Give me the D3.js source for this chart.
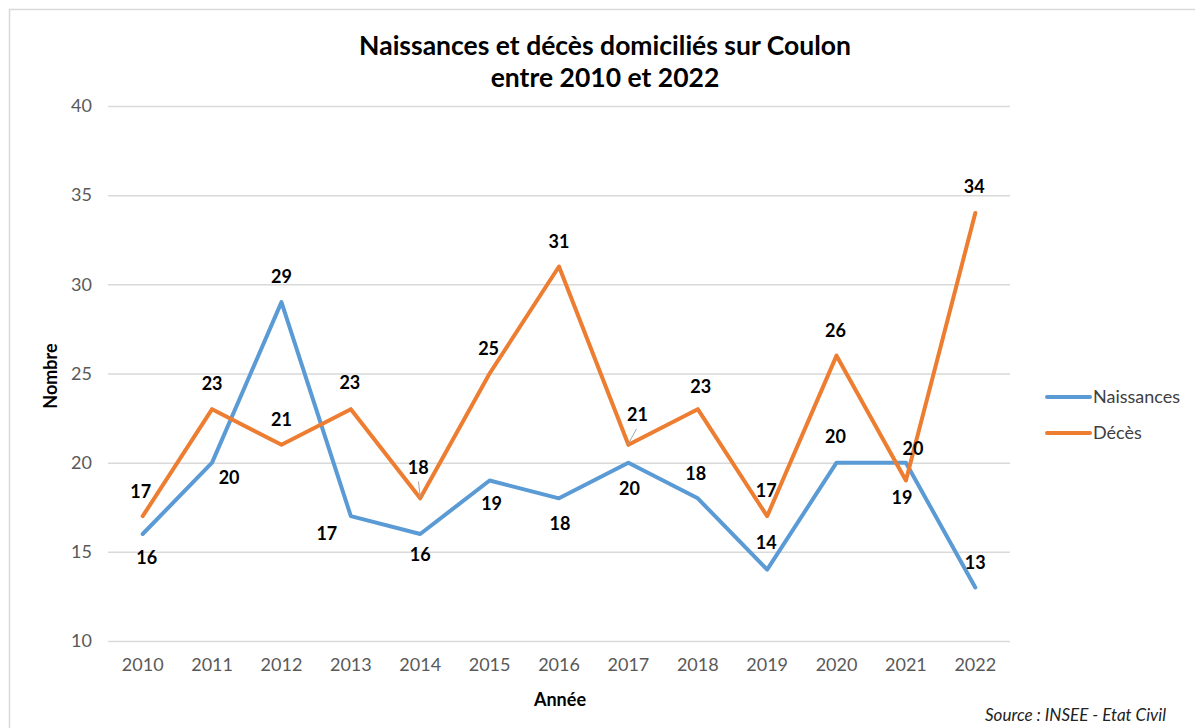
<!DOCTYPE html>
<html>
<head>
<meta charset="utf-8">
<script src="https://cdn.jsdelivr.net/npm/d3@7"></script>
<style>
  body { margin: 0; background: #fff; }
  svg text { font-family: Lato, "Open Sans", sans-serif; }
</style>
</head>
<body>
<div id="chart"></div>
<script>
// data
const years = ['2010', '2011', '2012', '2013', '2014', '2015', '2016', '2017', '2018', '2019', '2020', '2021', '2022'];
const naissances = [16, 20, 29, 17, 16, 19, 18, 20, 18, 14, 20, 20, 13];
const deces = [17, 23, 21, 23, 18, 25, 31, 21, 23, 17, 26, 19, 34];
const yTicks = [10, 15, 20, 25, 30, 35, 40];

// label placement (pixel offsets from the point, as dragged in the original)
const naissOffsets = [[4, 24], [17, 15], [0, -25], [-24, 18], [0, 21], [2, 23], [1, 25], [1, 26], [-2, -25], [-1, -27], [-1, -26], [7, -14], [0, -25]];
const decesOffsets = [[-2, -24], [0, -25], [0, -25], [-1, -26], [-2, -31], [-1, -25], [0, -25], [9, -30], [3, -22], [-1, -25], [-1, -25], [-4, 17], [-1, -26]];

const width = 1195, height = 728;
const plotLeft = 108, plotRight = 1010, plotTop = 106, plotBottom = 641;

const svg = d3.select('#chart').append('svg')
  .attr('width', width)
  .attr('height', height);

// frame
svg.append('rect')
  .attr('x', 9.5).attr('y', 9.5)
  .attr('width', 1200).attr('height', 740)
  .attr('fill', 'none')
  .attr('stroke', '#d9d9d9')
  .attr('stroke-width', 1.5);

const x = d3.scaleBand().domain(years).range([plotLeft, plotRight]);
const y = d3.scaleLinear().domain([10, 40]).range([plotBottom, plotTop]);
const cx = d => x(d) + x.bandwidth() / 2;

// gridlines + y labels
const yAxis = d3.axisLeft(y).tickValues(yTicks).tickSize(-(plotRight - plotLeft)).tickPadding(16);
svg.append('g')
  .attr('transform', `translate(${plotLeft},0)`)
  .call(yAxis)
  .call(g => g.select('.domain').remove())
  .call(g => g.selectAll('.tick line').attr('stroke', '#d9d9d9').attr('stroke-width', 1.5))
  .call(g => g.selectAll('.tick text').attr('fill', '#595959').style('font-size', '18px'));

// x labels
const xAxis = d3.axisBottom(x).tickSize(0).tickPadding(17);
svg.append('g')
  .attr('transform', `translate(0,${plotBottom})`)
  .call(xAxis)
  .call(g => g.select('.domain').remove())
  .call(g => g.selectAll('.tick text').attr('fill', '#595959').style('font-size', '18px'));

// title
svg.append('text')
  .attr('x', 605).attr('y', 55)
  .attr('text-anchor', 'middle')
  .style('font-size', '26.5px').style('font-weight', 'bold')
  .attr('fill', '#000')
  .text('Naissances et décès domiciliés sur Coulon');
svg.append('text')
  .attr('x', 605).attr('y', 87)
  .attr('text-anchor', 'middle')
  .style('font-size', '26.5px').style('font-weight', 'bold')
  .attr('fill', '#000')
  .text('entre 2010 et 2022');

// axis titles
svg.append('text')
  .attr('transform', 'translate(57,376) rotate(-90)')
  .attr('text-anchor', 'middle')
  .style('font-size', '18px').style('font-weight', 'bold')
  .text('Nombre');
svg.append('text')
  .attr('x', 560).attr('y', 706)
  .attr('text-anchor', 'middle')
  .style('font-size', '18px').style('font-weight', 'bold')
  .text('Année');

svg.append('text')
  .attr('x', 1166).attr('y', 721)
  .attr('text-anchor', 'end')
  .style('font-size', '17px').style('font-style', 'italic')
  .attr('fill', '#222')
  .text('Source : INSEE - Etat Civil');

// series
const series = [
  { name: 'Naissances', values: naissances, color: '#5b9bd5', offsets: naissOffsets },
  { name: 'Décès', values: deces, color: '#ed7d31', offsets: decesOffsets }
];

const line = d3.line()
  .x((d, i) => cx(years[i]))
  .y(d => y(d));

series.forEach(s => {
  svg.append('path')
    .datum(s.values)
    .attr('d', line)
    .attr('fill', 'none')
    .attr('stroke', s.color)
    .attr('stroke-width', 4)
    .attr('stroke-linejoin', 'round')
    .attr('stroke-linecap', 'round');
});

// leader lines (2014 and 2017 deces labels)
[4, 7].forEach(i => {
  const px = cx(years[i]), py = y(deces[i]);
  const o = decesOffsets[i];
  svg.append('line')
    .attr('x1', px + o[0] * 0.9).attr('y1', py + o[1] + 14)
    .attr('x2', px).attr('y2', py - 1)
    .attr('stroke', '#a6a6a6')
    .attr('stroke-width', 1);
});

series.forEach(s => {
  svg.append('g').selectAll('text')
    .data(s.values)
    .join('text')
    .attr('x', (d, i) => cx(years[i]) + s.offsets[i][0])
    .attr('y', (d, i) => y(d) + s.offsets[i][1])
    .attr('dy', '0.35em')
    .attr('text-anchor', 'middle')
    .style('font-size', '18px').style('font-weight', 'bold')
    .attr('fill', '#000')
    .text(d => d);
});

// legend
const legend = svg.append('g').attr('transform', 'translate(1047,397)');
series.forEach((s, i) => {
  const g = legend.append('g').attr('transform', `translate(0,${i * 36})`);
  g.append('line')
    .attr('x1', 0).attr('x2', 43)
    .attr('stroke', s.color).attr('stroke-width', 4)
    .attr('stroke-linecap', 'round');
  g.append('text')
    .attr('x', 46).attr('dy', '0.35em')
    .style('font-size', '18px')
    .attr('fill', '#404040')
    .text(s.name);
});
</script>
</body>
</html>
